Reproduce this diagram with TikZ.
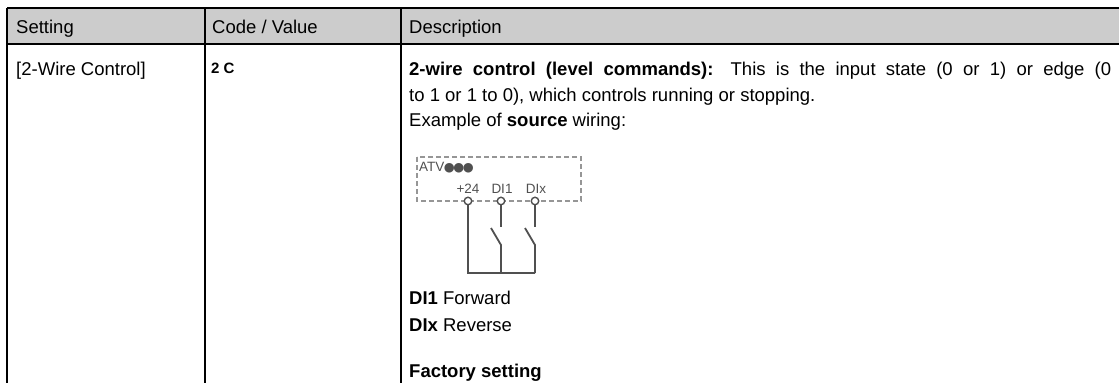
\documentclass[tikz,border=0pt]{standalone}
\usepackage{fontspec}
\setmainfont{Liberation Sans}
\newfontfamily\dejavu{DejaVu Sans}
\definecolor{headgray}{RGB}{204,204,204}
\definecolor{wiregray}{RGB}{80,80,80}
\definecolor{boxgray}{RGB}{150,150,150}
\begin{document}
\begin{tikzpicture}[x=1pt,y=-1pt,
  txt/.style={anchor=base west,inner sep=0,font=\fontsize{18.5}{22}\selectfont},
  rule/.style={line width=1.2pt,black},
  wire/.style={line width=1.8pt,draw=wiregray},
  term/.style={circle,draw=wiregray,fill=white,line width=1.4pt,minimum size=7.5pt,inner sep=0},
  lab/.style={font=\fontsize{13.5}{15}\selectfont,text=wiregray,inner sep=0,anchor=base},
  seg/.style={anchor=base west,inner sep=0,font=\fontsize{15}{17}\selectfont\bfseries}]
\useasboundingbox (0,0) rectangle (1119,383);
% table
\fill[headgray] (7,8) rectangle (1119,44);
\draw[rule] (7,8) -- (1119,8);
\draw[rule] (7,44) -- (1119,44);
\draw[rule] (7,8) -- (7,383);
\draw[rule] (205,8) -- (205,383);
\draw[rule] (401,8) -- (401,383);
% header
\node[txt] (h1) at (16,33) {Setting};
\node[txt] (h2) at (212,33) {Code / Value};
\node[txt] (h3) at (409,33) {Description};
% row
\node[txt] (s1) at (16,75.5) {[2-Wire Control]};
\node[seg] (c1) at (211,73.5) {2 C};
\node[txt] (d1) at (409,75.5) {\makebox[702pt][s]{\textbf{2-wire control (level commands):} This is the input state (0 or 1) or edge (0}};
\node[txt] (d2) at (409,101) {to 1 or 1 to 0), which controls running or stopping.};
\node[txt] (d3) at (409,126.5) {Example of \textbf{source} wiring:};
\node[txt] (d4) at (409,304) {\textbf{DI1} Forward};
\node[txt] (d5) at (409,331) {\textbf{DIx} Reverse};
\node[txt] (d6) at (409,377.5) {\textbf{Factory setting}};
% wiring diagram
\draw[boxgray,line width=1.3pt,dash pattern=on 5pt off 3pt] (417,157) rectangle (581,201);
\node[anchor=base west,inner sep=0,font=\fontsize{13.5}{15}\selectfont,text=wiregray] (atv) at (419,171) {ATV{\dejavu\fontsize{12.5}{14}\selectfont\kern-0.5pt●\kern-1.5pt●\kern-1.5pt●}};
\node[lab] (l24) at (468,193) {+24};
\node[lab] (l1) at (502,193) {DI1};
\node[lab] (lx) at (536,193) {DIx};
\node[term] (t24) at (468,201) {};
\node[term] (t1) at (501,201) {};
\node[term] (tx) at (535,201) {};
\coordinate (b24) at (468,273);
\coordinate (u1) at (501,227);
\coordinate (s1a) at (491,228);
\coordinate (s1b) at (501,245);
\coordinate (b1) at (501,273);
\coordinate (ux) at (535,227);
\coordinate (sxa) at (525,228);
\coordinate (sxb) at (535,245);
\coordinate (bx) at (535,273);
\draw[wire] (t24.south) -- (b24) -- (bx);
\draw[wire] (t1.south) -- (u1);
\draw[wire] (s1a) -- (s1b) -- (b1);
\draw[wire] (tx.south) -- (ux);
\draw[wire] (sxa) -- (sxb) -- (bx);
\end{tikzpicture}
\end{document}
